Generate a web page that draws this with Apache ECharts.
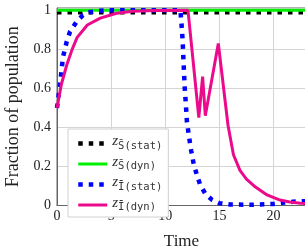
<!DOCTYPE html>
<html><head><meta charset="utf-8">
<script src="https://cdn.jsdelivr.net/npm/echarts@6/dist/echarts.min.js"></script>
<style>html,body{margin:0;padding:0;background:#fff}#c{width:305px;height:250px}</style>
</head><body><div id="c"></div>
<script>
const xTicks = [0, 5, 10, 15, 20];
const yTicks = [0, 0.2, 0.4, 0.6, 0.8, 1];
const seriesNames = ['S(stat)', 'S(dyn)', 'I(stat)', 'I(dyn)'];
const legendSubs = ['S\u0304(stat)', 'S\u0304(dyn)', 'I\u0304(stat)', 'I\u0304(dyn)'];

const tSstat = [0, 23];
const vSstat = [0.99, 0.99];

const tSdyn = [0, 23];
const vSdyn = [1, 1];

const tIstat = [0, 0.3, 0.55, 0.9, 1.2, 1.85, 2.4, 3, 4, 5, 11.4, 11.5, 11.6, 11.7, 11.8, 11.9, 12.0, 12.2, 12.4, 12.6, 12.9, 13.2, 13.7, 14.3, 15, 16, 18, 20, 21, 22, 23];
const vIstat = [0.5, 0.63, 0.76, 0.84, 0.89, 0.945, 0.975, 0.99, 0.998, 1, 1, 0.93, 0.85, 0.72, 0.6, 0.52, 0.43, 0.35, 0.28, 0.22, 0.16, 0.11, 0.06, 0.03, 0.012, 0.005, 0.004, 0.008, 0.015, 0.02, 0.022];

const tIdyn = [0, 0.4, 0.9, 1.4, 1.85, 2.8, 4, 5.5, 7, 9, 12.1, 13.1, 13.45, 13.7, 14.9, 15.8, 16.3, 16.9, 17.5, 18.2, 19.4, 20.6, 21.5, 22.5, 23];
const vIdyn = [0.5, 0.62, 0.72, 0.8, 0.86, 0.925, 0.96, 0.985, 0.995, 0.999, 1, 0.45, 0.66, 0.46, 0.83, 0.41, 0.26, 0.18, 0.135, 0.1, 0.054, 0.028, 0.018, 0.012, 0.01];

const zip = (t, v) => t.map((x, i) => [x, v[i]]);
const serif = 'Liberation Serif';
const colors = ['#000000', '#00f000', '#0000ff', '#ec0a8c'];
const dotted = [true, false, true, false];

const chart = echarts.init(document.getElementById('c'), null, {renderer: 'canvas'});
chart.setOption({
  animation: false,
  grid: {left: 57, top: 8, right: -1, bottom: 44.5, show: true, borderColor: '#666', borderWidth: 1,
    containLabel: false, outerBoundsMode: 'none'},
  xAxis: {
    type: 'value', min: 0, max: 23, interval: 5,
    name: 'Time', nameLocation: 'middle', nameGap: 28,
    nameTextStyle: {fontFamily: serif, fontSize: 17, color: '#222'},
    axisLine: {show: true, lineStyle: {color: '#666'}},
    axisTick: {show: false},
    axisLabel: {fontFamily: serif, fontSize: 14, color: '#222', margin: 4, showMaxLabel: false,
      formatter: v => xTicks.includes(v) ? String(v) : ''},
    splitLine: {show: true, lineStyle: {color: '#d4d4d4'}}
  },
  yAxis: {
    type: 'value', min: 0, max: 1.012, interval: 0.2,
    name: 'Fraction of population', nameLocation: 'middle', nameGap: 35,
    nameTextStyle: {fontFamily: serif, fontSize: 18, color: '#222'},
    axisLine: {show: true, lineStyle: {color: '#666'}},
    axisTick: {show: false},
    axisLabel: {fontFamily: serif, fontSize: 14, color: '#222', margin: 6, showMaxLabel: false,
      formatter: v => { const m = yTicks.find(t => Math.abs(t - v) < 1e-6); return m === undefined ? '' : String(m); }},
    splitLine: {show: true, lineStyle: {color: '#d4d4d4'}}
  },
  legend: {
    orient: 'vertical', left: 68, top: 129,
    padding: [5, 6, 4, 8], itemGap: 3, itemWidth: 29, itemHeight: 14,
    backgroundColor: '#fff', borderColor: '#d0d0d0', borderWidth: 1,
    itemStyle: {opacity: 0},
    data: seriesNames.map((n, i) => ({
      name: n,
      lineStyle: dotted[i]
        ? {color: colors[i], width: 4.5, type: [4.5, 6], cap: 'butt'}
        : {color: colors[i], width: 3, type: 'solid'}
    })),
    formatter: name => '{z|z}{s|' + legendSubs[seriesNames.indexOf(name)] + '}',
    textStyle: {
      rich: {
        z: {fontFamily: serif, fontStyle: 'italic', fontSize: 15, color: '#333', padding: [0, 0, 4, 0]},
        s: {fontFamily: 'DejaVu Sans Mono', fontSize: 10.5, color: '#333', padding: [5, 0, 0, 0]}
      }
    }
  },
  series: [
    {name: seriesNames[0], type: 'line', data: zip(tSstat, vSstat), showSymbol: false, symbol: 'none',
      lineStyle: {color: colors[0], width: 4.5, type: [4.5, 6], cap: 'butt'}, itemStyle: {color: colors[0]}},
    {name: seriesNames[1], type: 'line', data: zip(tSdyn, vSdyn), showSymbol: false, symbol: 'none',
      lineStyle: {color: colors[1], width: 3}, itemStyle: {color: colors[1]}},
    {name: seriesNames[2], type: 'line', data: zip(tIstat, vIstat), showSymbol: false, symbol: 'none',
      lineStyle: {color: colors[2], width: 4.5, type: [4.5, 6], cap: 'butt'}, itemStyle: {color: colors[2]}},
    {name: seriesNames[3], type: 'line', data: zip(tIdyn, vIdyn), showSymbol: false, symbol: 'none',
      lineStyle: {color: colors[3], width: 3}, itemStyle: {color: colors[3]}}
  ]
});
</script></body></html>
